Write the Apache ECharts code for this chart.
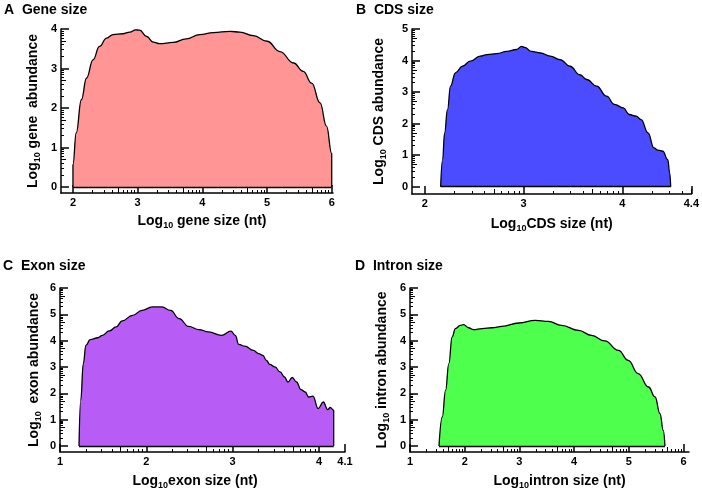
<!DOCTYPE html>
<html><head><meta charset="utf-8">
<script src="https://cdn.jsdelivr.net/npm/echarts@6/dist/echarts.min.js"></script>
<style>html,body{margin:0;padding:0;background:#fff}#c{width:702px;height:492px}</style>
</head><body><div id="c"></div>
<script>
// ---- data (log10 size, log10 abundance) ----
const geneX = [2, 2, 2.05, 2.13, 2.21, 2.31, 2.41, 2.52, 2.62, 2.77, 2.88, 2.97, 3.03, 3.14, 3.24, 3.34, 3.55, 3.75, 3.96, 4.17, 4.43, 4.58, 4.79, 5.0, 5.2, 5.41, 5.56, 5.69, 5.82, 5.92, 6.0, 6.0];
const geneY = [0, 0.57, 1.37, 2.21, 2.76, 3.22, 3.56, 3.77, 3.86, 3.88, 3.92, 3.98, 3.97, 3.81, 3.67, 3.63, 3.66, 3.75, 3.86, 3.91, 3.94, 3.92, 3.83, 3.69, 3.43, 3.14, 2.93, 2.63, 2.13, 1.54, 0.85, 0];

const cdsX = [2.16, 2.18, 2.20, 2.23, 2.26, 2.31, 2.38, 2.46, 2.56, 2.63, 2.73, 2.83, 2.93, 2.98, 3.01, 3.08, 3.17, 3.27, 3.37, 3.47, 3.57, 3.64, 3.74, 3.84, 3.92, 4.01, 4.07, 4.14, 4.19, 4.26, 4.32, 4.36, 4.41, 4.46, 4.48, 4.49];
const cdsY = [0, 0.86, 1.71, 2.45, 3.19, 3.61, 3.82, 3.98, 4.14, 4.19, 4.22, 4.29, 4.35, 4.45, 4.42, 4.29, 4.24, 4.14, 4.03, 3.82, 3.55, 3.40, 3.19, 2.87, 2.61, 2.50, 2.29, 2.24, 2.13, 1.71, 1.23, 1.16, 1.13, 0.86, 0.44, 0];

const exonX = [1.22, 1.24, 1.27, 1.30, 1.35, 1.44, 1.49, 1.57, 1.65, 1.72, 1.84, 1.95, 2.07, 2.18, 2.28, 2.38, 2.49, 2.61, 2.72, 2.87, 2.98, 3.03, 3.07, 3.14, 3.24, 3.30, 3.35, 3.39, 3.43, 3.49, 3.55, 3.60, 3.64, 3.69, 3.74, 3.79, 3.84, 3.88, 3.93, 3.99, 4.05, 4.10, 4.13, 4.17, 4.17];
const exonY = [0, 1.73, 3.13, 3.82, 4.04, 4.11, 4.20, 4.37, 4.52, 4.75, 4.96, 5.15, 5.28, 5.28, 5.15, 4.84, 4.54, 4.42, 4.33, 4.20, 4.36, 4.20, 3.86, 3.79, 3.63, 3.51, 3.44, 3.25, 3.10, 3.00, 2.81, 2.62, 2.43, 2.60, 2.43, 2.14, 2.05, 1.86, 1.89, 1.42, 1.67, 1.38, 1.46, 1.36, 0];

const intronX = [1.53, 1.59, 1.65, 1.71, 1.77, 1.83, 1.92, 1.98, 2.07, 2.16, 2.32, 2.50, 2.68, 2.99, 3.29, 3.53, 3.77, 4.08, 4.32, 4.56, 4.81, 4.99, 5.17, 5.36, 5.48, 5.57, 5.63, 5.66];
const intronY = [0, 1.10, 2.11, 3.13, 4.14, 4.46, 4.58, 4.61, 4.49, 4.42, 4.46, 4.49, 4.54, 4.67, 4.77, 4.73, 4.58, 4.39, 4.20, 3.99, 3.63, 3.25, 2.75, 2.24, 1.86, 1.23, 0.59, 0];

// ---- tick labels ----
const geneXTickPos = [2, 3, 4, 5, 6];        const geneXTickText = ['2', '3', '4', '5', '6'];
const geneYTickPos = [0, 1, 2, 3, 4];        const geneYTickText = ['0', '1', '2', '3', '4'];
const cdsXTickPos = [2, 3, 4, 4.699];        const cdsXTickText = ['2', '3', '4', '4.4'];
const cdsYTickPos = [0, 1, 2, 3, 4, 5];      const cdsYTickText = ['0', '1', '2', '3', '4', '5'];
const exonXTickPos = [1, 2, 3, 4, 4.301];    const exonXTickText = ['1', '2', '3', '4', '4.1'];
const exonYTickPos = [0, 1, 2, 3, 4, 5, 6];  const exonYTickText = ['0', '1', '2', '3', '4', '5', '6'];
const intronXTickPos = [1, 2, 3, 4, 5, 6];   const intronXTickText = ['1', '2', '3', '4', '5', '6'];
const intronYTickPos = [0, 1, 2, 3, 4, 5, 6]; const intronYTickText = ['0', '1', '2', '3', '4', '5', '6'];

const panelTitles = ['A  Gene size', 'B  CDS size', 'C  Exon size', 'D  Intron size'];
const xNames = ['{a|Log}{s|10}{a| gene size (nt)}', '{a|Log}{s|10}{a|CDS size (nt)}', '{a|Log}{s|10}{a|exon size (nt)}', '{a|Log}{s|10}{a|intron size (nt)}'];
const yNames = ['{a|Log}{s|10}{a| gene  abundance}', '{a|Log}{s|10}{a| CDS abundance}', '{a|Log}{s|10}{a|  exon abundance}', '{a|Log}{s|10}{a| intron abundance}'];

const F = '"Liberation Sans", Arial, Helvetica, sans-serif';

function logTicks(lo, hi, ms) {
  const out = [];
  for (let k = Math.floor(lo); k < hi; k++) {
    for (const m of ms) {
      const v = k + Math.log10(m);
      if (v > lo + 1e-6 && v < hi - 1e-6) out.push(v);
    }
  }
  return out;
}

const panels = [
  { grid: {left: 61, top: 29, width: 272, height: 164}, xr: [1.815, 6.02], yr: [-0.15, 4], xs: geneX, ys: geneY, color: '#FF9595',
    xt: [geneXTickPos, geneXTickText], yt: [geneYTickPos, geneYTickText], xSpan: [2, 6], ySpan: [0, 4],
    title: [4, 3], xGap: 21, yGap: 19, xPad: [0, 0, 0, 10] },
  { grid: {left: 412, top: 29, width: 282, height: 165}, xr: [1.87, 4.70], yr: [-0.23, 5], xs: cdsX, ys: cdsY, color: '#4B4BFF',
    xt: [cdsXTickPos, cdsXTickText], yt: [cdsYTickPos, cdsYTickText], xSpan: [2, 4.699], ySpan: [0, 5],
    title: [356, 3], xGap: 23, yGap: 24, xPad: [0, 0, 0, 0] },
  { grid: {left: 60, top: 288, width: 285, height: 164}, xr: [1, 4.301], yr: [-0.23, 6], xs: exonX, ys: exonY, color: '#B85CF6',
    xt: [exonXTickPos, exonXTickText], yt: [exonYTickPos, exonYTickText], xSpan: [1, 4.301], ySpan: [0, 6],
    title: [3, 259], xGap: 22, yGap: 17, xPad: [0, 15, 0, 0] },
  { grid: {left: 410, top: 288, width: 279, height: 164}, xr: [1, 6.1], yr: [-0.23, 6], xs: intronX, ys: intronY, color: '#4EFF4E',
    xt: [intronXTickPos, intronXTickText], yt: [intronYTickPos, intronYTickText], xSpan: [1, 6], ySpan: [0, 6],
    title: [355, 259], xGap: 22, yGap: 19, xPad: [0, 0, 0, 20] }
];

const richName = {
  a: {fontSize: 14, fontWeight: 'bold', fontFamily: F, color: '#000', lineHeight: 16, verticalAlign: 'top'},
  s: {fontSize: 9, fontWeight: 'bold', fontFamily: F, color: '#000', lineHeight: 9, padding: [8, 0, 0, 0], verticalAlign: 'bottom'}
};

const option = {animation: false, backgroundColor: '#fff', title: [], grid: [], xAxis: [], yAxis: [], series: []};

function labelFor(pos, txt) {
  return function (v) {
    let best = 0;
    for (let i = 1; i < pos.length; i++) if (Math.abs(pos[i] - v) < Math.abs(pos[best] - v)) best = i;
    return txt[best];
  };
}

panels.forEach((p, i) => {
  option.grid.push(Object.assign({containLabel: false}, p.grid));
  option.title.push({text: panelTitles[i], left: p.title[0], top: p.title[1], padding: 0,
    textStyle: {fontSize: 14, fontWeight: 'bold', fontFamily: F, color: '#000'}});

  const lineSt = {color: '#000', width: 1.5};
  const tickLens = [8, 5, 3];
  tickLens.forEach((len, li) => {
    const xVals = li === 0 ? p.xt[0] : (li === 1 ? logTicks(p.xSpan[0], p.xSpan[1], [5]) : logTicks(p.xSpan[0], p.xSpan[1], [2, 3, 4, 6, 7, 8, 9]));
    const yVals = li === 0 ? p.yt[0] : (li === 1 ? logTicks(p.ySpan[0], p.ySpan[1], [5]) : logTicks(p.ySpan[0], p.ySpan[1], [2, 3, 4, 6, 7, 8, 9]));
    const labStyle = {fontSize: 11, fontWeight: 'bold', fontFamily: F, color: '#000', hideOverlap: false, showMinLabel: true, showMaxLabel: true};
    const xa = {
      gridIndex: i, type: 'value', position: 'bottom', min: p.xr[0], max: p.xr[1],
      splitLine: {show: false},
      axisLine: {show: li === 0, onZero: false, lineStyle: lineSt},
      axisTick: {show: true, inside: true, length: len, customValues: xVals, lineStyle: {color: '#000', width: li === 0 ? 1.5 : 1}},
      axisLabel: li === 0 ? Object.assign({show: true, customValues: p.xt[0], formatter: labelFor(p.xt[0], p.xt[1]), margin: 4}, labStyle) : {show: false}
    };
    const ya = {
      gridIndex: i, type: 'value', position: 'left', min: p.yr[0], max: p.yr[1],
      splitLine: {show: false},
      axisLine: {show: li === 0, onZero: false, lineStyle: lineSt},
      axisTick: {show: true, inside: true, length: len, customValues: yVals, lineStyle: {color: '#000', width: li === 0 ? 1.5 : 1}},
      axisLabel: li === 0 ? Object.assign({show: true, customValues: p.yt[0], formatter: labelFor(p.yt[0], p.yt[1]), margin: 4}, labStyle) : {show: false}
    };
    if (li === 0) {
      xa.name = xNames[i]; xa.nameLocation = 'middle'; xa.nameGap = p.xGap;
      xa.nameTextStyle = {rich: richName, padding: p.xPad};
      ya.name = yNames[i]; ya.nameLocation = 'middle'; ya.nameGap = p.yGap; ya.nameRotate = 90;
      ya.nameTextStyle = {rich: richName};
    }
    option.xAxis.push(xa);
    option.yAxis.push(ya);
  });

  option.series.push({
    type: 'line', xAxisIndex: i * 3, yAxisIndex: i * 3,
    data: p.xs.map((x, j) => [x, p.ys[j]]),
    symbol: 'none', showSymbol: false, smooth: 0.45, smoothMonotone: 'x',
    lineStyle: {color: '#000', width: 1.3},
    areaStyle: {color: p.color, opacity: 1},
    markLine: {
      silent: true, symbol: ['none', 'none'], label: {show: false},
      lineStyle: {color: '#000', width: 1.3, type: 'solid'},
      data: [[{coord: [p.xs[0], 0]}, {coord: [p.xs[p.xs.length - 1], 0]}]]
    }
  });
});

const chart = echarts.init(document.getElementById('c'), null, {renderer: 'canvas'});
chart.setOption(option);
</script>
</body></html>
